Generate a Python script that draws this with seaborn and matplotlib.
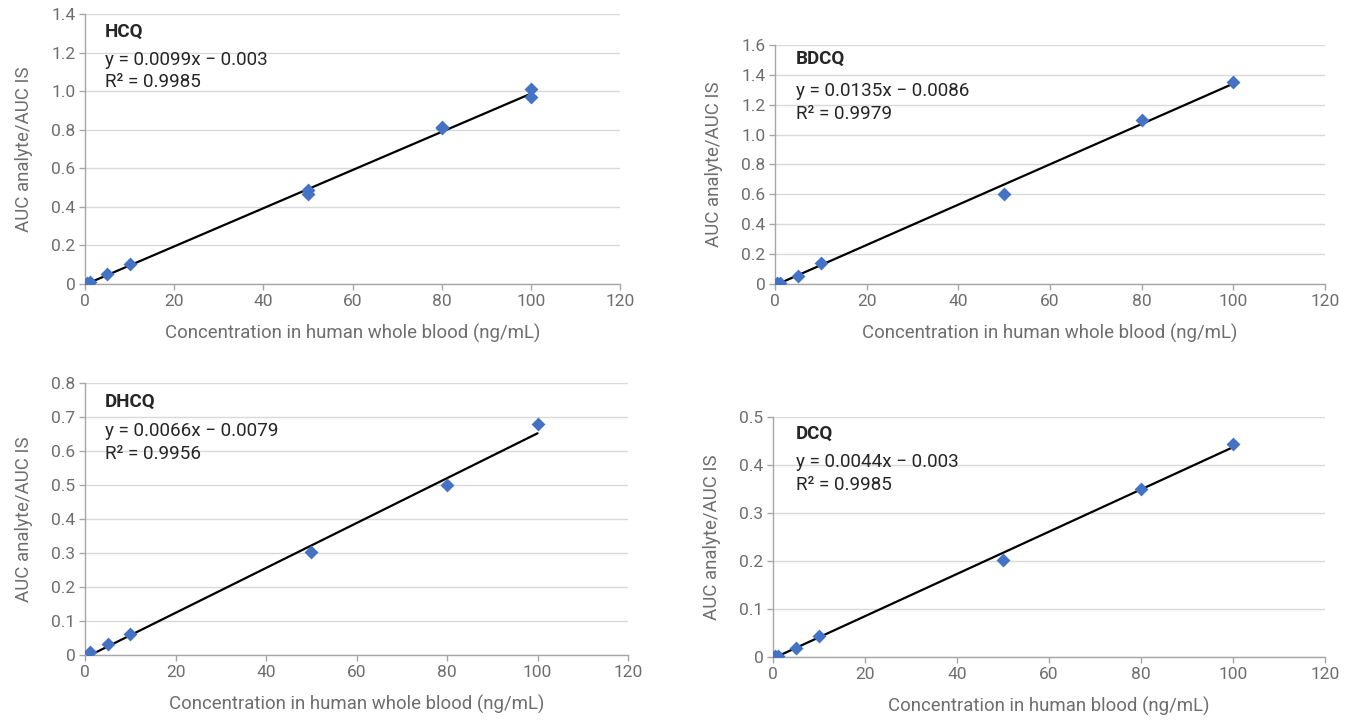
import numpy as np
import pandas as pd
import matplotlib
matplotlib.use("Agg")
import matplotlib.pyplot as plt
from matplotlib.ticker import FuncFormatter, MultipleLocator
import seaborn as sns

# ---- Calibration data -----------------------------------------------------

analytes = ["HCQ", "BDCQ", "DHCQ", "DCQ"]

hcq_conc = [0.5, 1, 5, 10, 50, 50, 80, 80, 100, 100]
hcq_ratio = [0.005, 0.012, 0.05, 0.105, 0.485, 0.465, 0.815, 0.81, 1.01, 0.97]

bdcq_conc = [0.5, 1, 5, 10, 50, 80, 100]
bdcq_ratio = [0.004, 0.006, 0.055, 0.14, 0.605, 1.095, 1.35]

dhcq_conc = [1, 5, 10, 50, 80, 100]
dhcq_ratio = [0.008, 0.033, 0.063, 0.302, 0.50, 0.678]

dcq_conc = [0.5, 1, 5, 10, 50, 80, 100]
dcq_ratio = [0.002, 0.002, 0.018, 0.043, 0.202, 0.35, 0.443]

slopes = [0.0099, 0.0135, 0.0066, 0.0044]
intercepts = [-0.003, -0.0086, -0.0079, -0.003]
r_squared = ["0.9985", "0.9979", "0.9956", "0.9985"]
equations = ["y = 0.0099x \u2212 0.003", "y = 0.0135x \u2212 0.0086",
             "y = 0.0066x \u2212 0.0079", "y = 0.0044x \u2212 0.003"]

y_max = [1.4, 1.6, 0.8, 0.5]
y_step = [0.2, 0.2, 0.1, 0.1]
x_labels = ["Concentration in human whole blood (ng/mL)"] * 3 + ["Concentration in human blood (ng/mL)"]

conc = [hcq_conc, bdcq_conc, dhcq_conc, dcq_conc]
ratio = [hcq_ratio, bdcq_ratio, dhcq_ratio, dcq_ratio]

# ---- Styling ---------------------------------------------------------------

sns.set_theme(style="white")
plt.rcParams["font.family"] = ["Roboto", "DejaVu Sans"]

grey = "#6e6e6e"
point_colour = "#4472C4"

fig = plt.figure(figsize=(13.46, 7.21), dpi=100)

# axes rectangles in figure fractions (left, bottom, width, height)
boxes = [
    (0.0632, 0.6061, 0.3975, 0.3745),
    (0.5758, 0.6061, 0.4086, 0.3315),
    (0.0632, 0.0915, 0.4034, 0.3773),
    (0.5743, 0.0888, 0.4101, 0.3329),
]
text_pos = [
    (0.037, [0.933, 0.83, 0.748]),
    (0.038, [0.941, 0.808, 0.711]),
    (0.037, [0.930, 0.824, 0.739]),
    (0.042, [0.929, 0.8125, 0.717]),
]

for i, name in enumerate(analytes):
    ax = fig.add_axes(boxes[i])
    df = pd.DataFrame({"conc": conc[i], "ratio": ratio[i]})

    # trendline from the reported fit
    x_fit = np.array([min(conc[i]), max(conc[i])])
    ax.plot(x_fit, slopes[i] * x_fit + intercepts[i], color="black", lw=1.6, zorder=2)

    sns.scatterplot(data=df, x="conc", y="ratio", ax=ax, marker="D", s=50,
                    color=point_colour, edgecolor=point_colour, linewidth=0, zorder=3)

    ax.set_xlim(0, 120)
    ax.set_ylim(0, y_max[i])
    ax.xaxis.set_major_locator(MultipleLocator(20))
    ax.yaxis.set_major_locator(MultipleLocator(y_step[i]))
    ax.yaxis.set_major_formatter(FuncFormatter(lambda v, p: "0" if abs(v) < 1e-9 else f"{v:.1f}"))

    ax.grid(axis="y", color="#d9d9d9", lw=1)
    ax.set_axisbelow(True)
    for side in ["top", "right"]:
        ax.spines[side].set_visible(False)
    for side in ["left", "bottom"]:
        ax.spines[side].set_color("#a6a6a6")
        ax.spines[side].set_linewidth(1)
    ax.tick_params(axis="both", colors="#a6a6a6", labelcolor=grey, labelsize=12.5,
                   length=4, width=1, direction="out", left=True, bottom=True, pad=3)

    ax.set_xlabel(x_labels[i], color=grey, fontsize=13.4, labelpad=11)
    ax.set_ylabel("AUC analyte/AUC IS", color=grey, fontsize=13.4, labelpad=13)

    tx, ty = text_pos[i]
    ax.text(tx, ty[0], name, transform=ax.transAxes, fontsize=13.5, fontweight="bold",
            color="#262626", va="center", ha="left")
    ax.text(tx, ty[1], equations[i], transform=ax.transAxes, fontsize=13.6,
            color="#262626", va="center", ha="left")
    ax.text(tx, ty[2], "R\u00b2 = " + r_squared[i], transform=ax.transAxes, fontsize=13.6,
            color="#262626", va="center", ha="left")

fig.savefig("out.png", dpi=100)
